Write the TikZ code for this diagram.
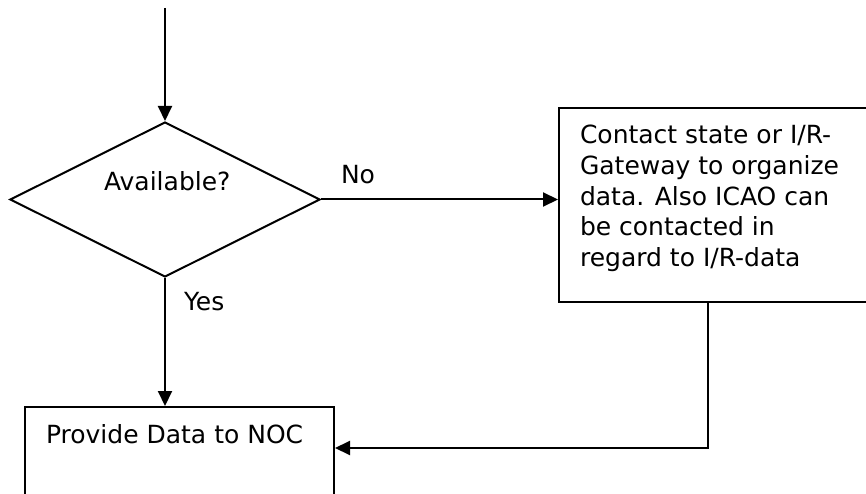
\documentclass[tikz,border=0pt]{standalone}
\usepackage{fontspec}
\setmainfont{DejaVu Sans}
\usetikzlibrary{shapes.geometric,arrows.meta}
\begin{document}
\begin{tikzpicture}[x=1pt,y=-1pt,
  line width=2pt,
  every node/.style={font=\fontsize{25}{30.8}\selectfont},
  arr/.style={-{Triangle[length=15pt,width=14pt]}},
  txt/.style={inner sep=0pt,anchor=base west},
  boxed/.style={draw,rectangle,inner sep=0pt}]
\useasboundingbox (0,0) rectangle (866,494);
\clip (0,0) rectangle (866,494);
\coordinate (top) at (165,8);
\node[draw,diamond,inner sep=0pt,minimum width=310pt,minimum height=155pt] (dia) at (165,199.5) {};
\node[txt] (avail) at (103,190.5) {Available?};
\node[boxed,minimum width=311pt,minimum height=194pt] (contact) at (714.5,205) {};
\node[inner sep=0pt,anchor=north west,align=left] (ctext) at (579,124) {Contact state or I/R-\\Gateway to organize\\data. Also ICAO can\\be contacted in\\regard to I/R-data};
\node[boxed,minimum width=309pt,minimum height=100pt] (prov) at (179.5,457) {};
\node[txt] (ptext) at (45,443) {Provide Data to NOC};
\node[txt] (no) at (340,184) {No};
\node[txt] (yes) at (183,310) {Yes};
\coordinate (corner) at (708,448);
\draw[arr] (top) -- (dia.north);
\draw[arr] (dia.east) -- (contact.west |- dia.east);
\draw[arr] (dia.south) -- (prov.north -| dia.south);
\draw[arr] (contact.south -| corner) -- (corner) -- (prov.east |- corner);
\end{tikzpicture}
\end{document}
